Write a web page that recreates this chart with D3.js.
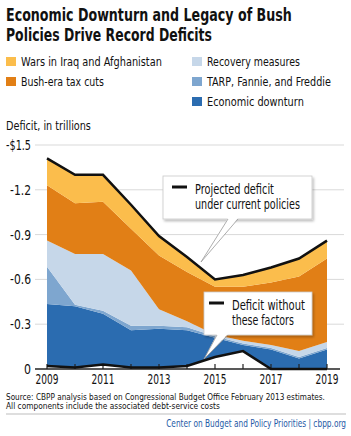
<!DOCTYPE html>
<html>
<head>
<meta charset="utf-8">
<script src="https://cdn.jsdelivr.net/npm/d3@7"></script>
<style>
  body { margin:0; background:#fff; }
  svg { display:block; font-family:"Liberation Sans Narrow","DejaVu Sans Condensed","Roboto",sans-serif; }
</style>
</head>
<body>
<div id="chart"></div>
<script>
// values, in trillions of dollars
const years = [2009, 2010, 2011, 2012, 2013, 2014, 2015, 2016, 2017, 2018, 2019]
const withoutFactors = [0.02, 0.01, 0.03, 0.01, 0.01, 0.02, 0.08, 0.12, 0.00, 0.00, 0.00]
const downturn = [0.415, 0.41, 0.34, 0.25, 0.26, 0.24, 0.13, 0.04, 0.13, 0.07, 0.13]
const tarp = [0.25, 0.01, 0.02, 0.03, 0.02, 0.02, 0.01, 0.01, 0.01, 0.01, 0.01]
const recovery = [0.175, 0.34, 0.38, 0.37, 0.11, 0.04, 0.01, 0.02, 0.02, 0.04, 0.04]
const taxCuts = [0.37, 0.34, 0.35, 0.28, 0.36, 0.33, 0.32, 0.36, 0.42, 0.50, 0.56]
const wars = [0.18, 0.19, 0.18, 0.16, 0.13, 0.10, 0.05, 0.08, 0.10, 0.12, 0.12]

const yTicks = [0, 0.3, 0.6, 0.9, 1.2, 1.5]
const yearLabels = [2009, 2011, 2013, 2015, 2017, 2019]

const keys = ["base", "downturn", "tarp", "recovery", "taxCuts", "wars"]
const colors = {
	downturn: "#2b6cb0",
	tarp: "#7ea6cf",
	recovery: "#c6d7e9",
	taxCuts: "#e17f16",
	wars: "#fbbd4c"
}

let width = 351
let height = 436

const svg = d3.select("#chart")
	.append("svg")
	.attr("width", width)
	.attr("height", height)

const defs = svg.append("defs")
defs.append("filter").attr("id", "shadow")
	.attr("x", "-10%").attr("y", "-10%").attr("width", "125%").attr("height", "135%")
	.append("feDropShadow")
	.attr("dx", 1.5).attr("dy", 2).attr("stdDeviation", 1.2)
	.attr("flood-color", "#000").attr("flood-opacity", 0.25)

// squeeze a text horizontally to a given width (the reference font is a condensed one)
function fit(sel, len){
	sel.each(function(d, i){
		const w = this.getComputedTextLength()
		const target = typeof len === "function" ? len(d, i) : len
		const s = target / w
		const x0 = +this.getAttribute("x")
		const y0 = +this.getAttribute("y")
		this.setAttribute("transform", "translate(" + x0 + "," + y0 + ") scale(" + s + ",1) translate(" + (-x0) + "," + (-y0) + ")")
	})
}

// title
const title = ["Economic Downturn and Legacy of Bush", "Policies Drive Record Deficits"]
const titleLen = [286, 206]
svg.selectAll(".title")
	.data(title)
	.enter().append("text")
	.attr("x", 6)
	.attr("y", (d, i) => 21 + i * 20)
	.attr("font-size", 18.5)
	.attr("font-weight", "bold")
	.attr("fill", "#111")
	.text(d => d)
	.call(fit, (d, i) => titleLen[i])

// legend
const legend = [
	{key: "wars", label: "Wars in Iraq and Afghanistan", x: 6, row: 0, len: 141},
	{key: "taxCuts", label: "Bush-era tax cuts", x: 6, row: 1, len: 83},
	{key: "recovery", label: "Recovery measures", x: 192, row: 0, len: 93},
	{key: "tarp", label: "TARP, Fannie, and Freddie", x: 192, row: 1, len: 124},
	{key: "downturn", label: "Economic downturn", x: 192, row: 2, len: 97}
]
const lg = svg.selectAll(".legend")
	.data(legend)
	.enter().append("g")
	.attr("transform", d => "translate(" + d.x + "," + (66 + d.row * 20) + ")")
lg.append("rect")
	.attr("x", 0).attr("y", -9)
	.attr("width", 10).attr("height", 9)
	.attr("fill", d => colors[d.key])
lg.append("text")
	.attr("x", 15).attr("y", 0)
	.attr("font-size", 13)
	.attr("fill", "#111")
	.text(d => d.label)
	.call(fit, d => d.len)

svg.append("text")
	.attr("x", 6).attr("y", 130)
	.attr("font-size", 13)
	.attr("fill", "#111")
	.text("Deficit, in trillions")
	.call(fit, 85)

// scales
const x = d3.scaleLinear().domain([2009, 2019]).range([47, 327])
const y = d3.scaleLinear().domain([0, 1.5]).range([369, 145])

// grid
svg.selectAll(".grid")
	.data(yTicks.filter(d => d > 0))
	.enter().append("line")
	.attr("x1", 35).attr("x2", 344)
	.attr("y1", d => y(d)).attr("y2", d => y(d))
	.attr("stroke", "#d9d9d9")
	.attr("stroke-width", 1)

const yFormat = d => d === 0 ? "0" : (d === 1.5 ? "-$" : "-") + d3.format(".1f")(d)
svg.selectAll(".ylab")
	.data(yTicks)
	.enter().append("text")
	.attr("x", 31)
	.attr("y", d => y(d) + 5)
	.attr("text-anchor", "end")
	.attr("font-size", 14)
	.attr("fill", "#111")
	.text(yFormat)
	.call(fit, d => d === 0 ? 7 : (d === 1.5 ? 25 : 21))

// stacked areas
const table = years.map((yr, i) => ({
	year: yr,
	base: withoutFactors[i],
	downturn: downturn[i],
	tarp: tarp[i],
	recovery: recovery[i],
	taxCuts: taxCuts[i],
	wars: wars[i]
}))
const series = d3.stack().keys(keys)(table)

const area = d3.area()
	.x(d => x(d.data.year))
	.y0(d => y(d[0]))
	.y1(d => y(d[1]))

svg.selectAll(".layer")
	.data(series.filter(s => s.key !== "base"))
	.enter().append("path")
	.attr("d", area)
	.attr("fill", d => colors[d.key])

// axis
svg.append("line")
	.attr("x1", 35).attr("x2", 340)
	.attr("y1", y(0)).attr("y2", y(0))
	.attr("stroke", "#222").attr("stroke-width", 1.5)
svg.selectAll(".tick")
	.data(years)
	.enter().append("line")
	.attr("x1", d => x(d)).attr("x2", d => x(d))
	.attr("y1", y(0)).attr("y2", y(0) - 5)
	.attr("stroke", "#222").attr("stroke-width", 1.2)
svg.selectAll(".xlab")
	.data(yearLabels)
	.enter().append("text")
	.attr("x", d => x(d))
	.attr("y", 384)
	.attr("text-anchor", "middle")
	.attr("font-size", 14.5)
	.attr("fill", "#111")
	.text(d => d)
	.call(fit, 23)

// lines: total deficit and deficit without the factors
const line = d3.line().x(d => x(d.data.year)).y(d => y(d[1]))
svg.append("path")
	.attr("d", line(series[series.length - 1]))
	.attr("fill", "none").attr("stroke", "#111").attr("stroke-width", 2.5)
svg.append("path")
	.attr("d", line(series[0]))
	.attr("fill", "none").attr("stroke", "#111").attr("stroke-width", 2.5)

// callouts
function callout(bx, by, bw, bh, tip, base, tx, lines, lens){
	const g = svg.append("g")
	g.append("rect")
		.attr("x", bx).attr("y", by)
		.attr("width", bw).attr("height", bh)
		.attr("fill", "#fff")
		.attr("stroke", "#c8c8c8").attr("stroke-width", 0.8)
		.attr("filter", "url(#shadow)")
	g.append("path")
		.attr("d", "M" + base[0] + "," + (by + bh - 1) + "L" + tip[0] + "," + tip[1] + "L" + base[1] + "," + (by + bh - 1) + "Z")
		.attr("fill", "#fff")
	g.append("path")
		.attr("d", "M" + base[0] + "," + (by + bh) + "L" + tip[0] + "," + tip[1] + "L" + base[1] + "," + (by + bh))
		.attr("fill", "none")
		.attr("stroke", "#999").attr("stroke-width", 0.8)
	g.append("line")
		.attr("x1", tx - 23).attr("x2", tx - 8)
		.attr("y1", by + 11).attr("y2", by + 11)
		.attr("stroke", "#111").attr("stroke-width", 3)
	g.selectAll("text")
		.data(lines)
		.enter().append("text")
		.attr("x", tx)
		.attr("y", (d, i) => by + 18 + i * 15.5)
		.attr("font-size", 14)
		.attr("fill", "#111")
		.text(d => d)
		.call(fit, (d, i) => lens[i])
}
callout(163, 176, 149, 43, [201, 262], [228, 238], 195, ["Projected deficit", "under current policies"], [79, 105])
callout(204, 292, 108, 43, [204, 359], [217, 228], 232, ["Deficit without", "these factors"], [73, 62])

// source and footer
const source = ["Source: CBPP analysis based on Congressional Budget Office February 2013 estimates.",
	"All components include the associated debt-service costs"]
const sourceLen = [319, 214]
svg.selectAll(".source")
	.data(source)
	.enter().append("text")
	.attr("x", 6)
	.attr("y", (d, i) => 400 + i * 9)
	.attr("font-size", 8.8)
	.attr("fill", "#111")
	.text(d => d)
	.call(fit, (d, i) => sourceLen[i])

svg.append("line")
	.attr("x1", 6).attr("x2", 346)
	.attr("y1", 414).attr("y2", 414)
	.attr("stroke", "#bdbdbd").attr("stroke-width", 1)

svg.append("text")
	.attr("x", 346).attr("y", 427)
	.attr("text-anchor", "end")
	.attr("font-size", 11)
	.attr("fill", "#1f5aa6")
	.text("Center on Budget and Policy Priorities | cbpp.org")
	.call(fit, 180)
</script>
</body>
</html>
